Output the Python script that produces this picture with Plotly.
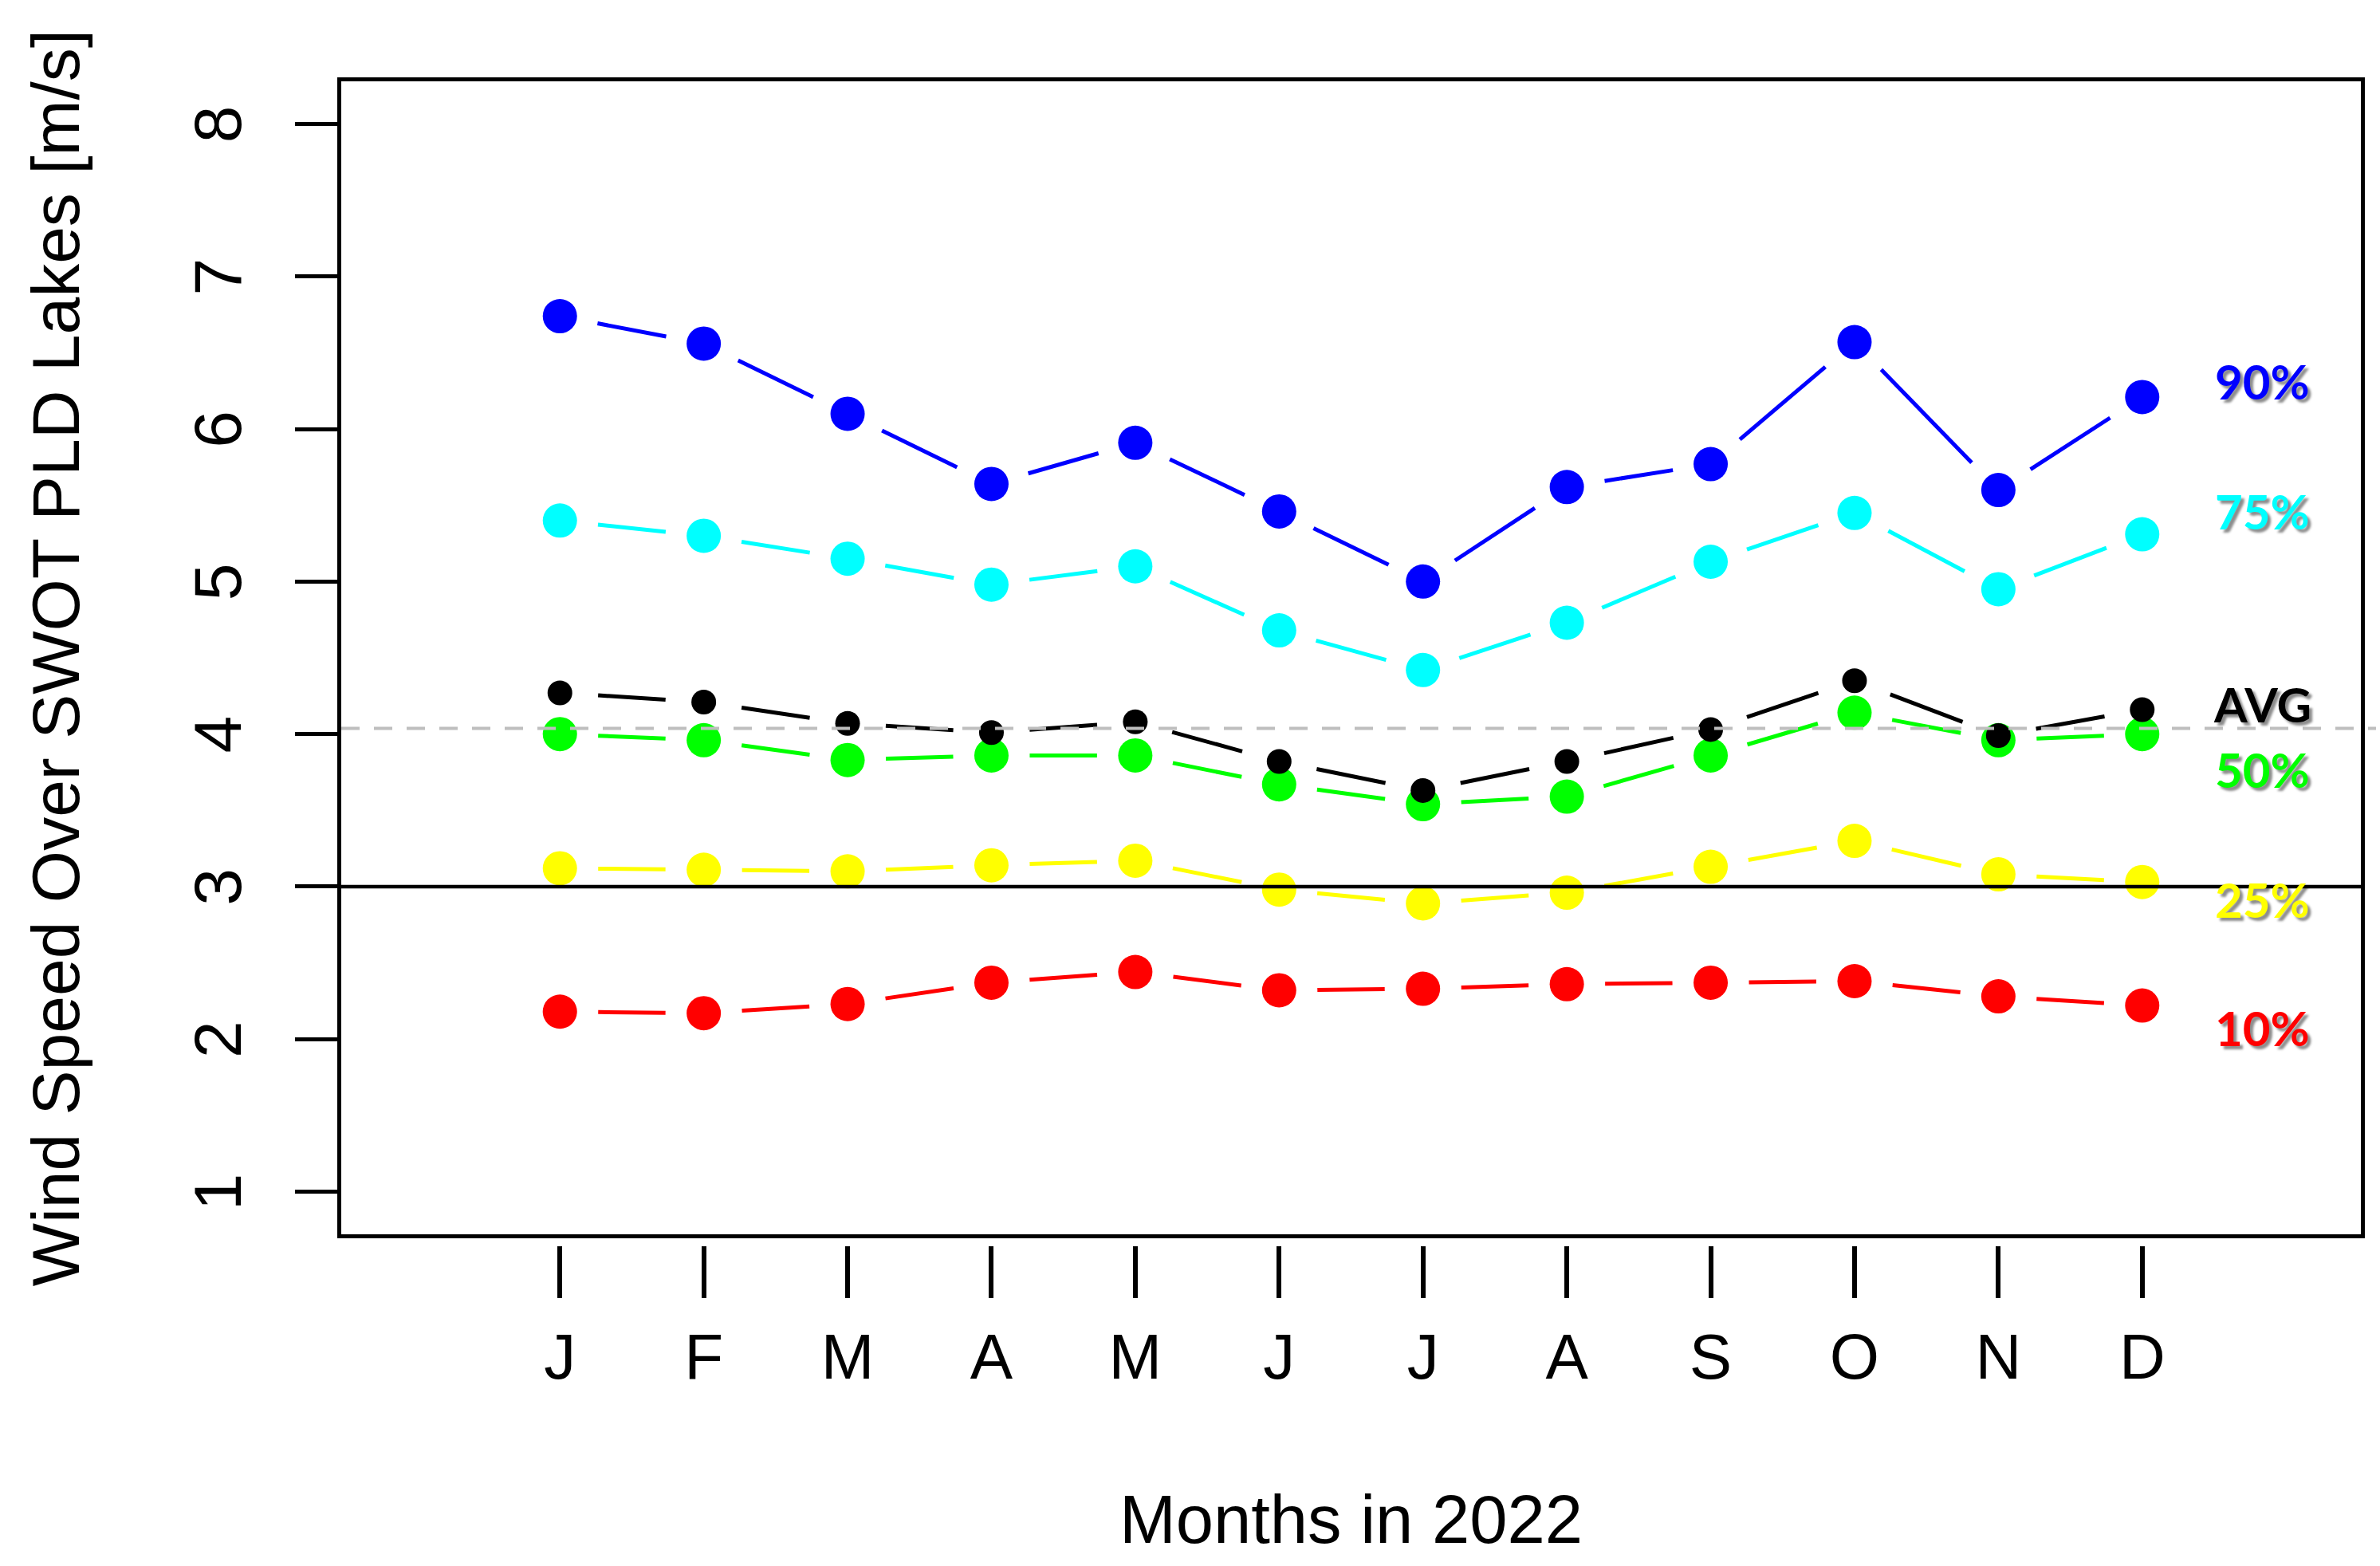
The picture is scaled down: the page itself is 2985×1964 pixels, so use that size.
import math
import plotly.graph_objects as go

# ---------------- data ----------------
months = ["J", "F", "M", "A", "M", "J", "J", "A", "S", "O", "N", "D"]
month_pos = list(range(1, 13))

p90 = [6.74, 6.56, 6.10, 5.64, 5.91, 5.46, 5.00, 5.62, 5.77, 6.57, 5.60, 6.21]
p75 = [5.40, 5.30, 5.15, 4.98, 5.10, 4.68, 4.42, 4.73, 5.13, 5.45, 4.95, 5.31]
avg = [4.27, 4.21, 4.07, 4.01, 4.08, 3.82, 3.63, 3.82, 4.03, 4.35, 3.99, 4.16]
p50 = [4.00, 3.96, 3.83, 3.86, 3.86, 3.67, 3.54, 3.59, 3.86, 4.14, 3.96, 4.00]
p25 = [3.12, 3.11, 3.10, 3.14, 3.17, 2.98, 2.89, 2.96, 3.13, 3.30, 3.08, 3.03]
p10 = [2.18, 2.17, 2.23, 2.37, 2.44, 2.32, 2.33, 2.36, 2.37, 2.38, 2.28, 2.22]

series_names = ["90%", "75%", "50%", "25%", "10%", "AVG"]
series_values = [p90, p75, p50, p25, p10, avg]
series_colors = ["#0000FF", "#00FFFF", "#00FF00", "#FFFF00", "#FF0000", "#000000"]
label_y = [6.315, 5.46, 3.77, 2.915, 2.075, 4.196]

avg_ref_line = 4.037
ref_line = 3.0

y_ticks = [1, 2, 3, 4, 5, 6, 7, 8]

# ---------------- geometry ----------------
W, H = 2985, 1964
ML, MR, MT = 428, 24, 102
PLOT_BOTTOM = 1548
x_range = [-0.52, 13.52]
y_range = [0.72, 8.28]
plot_w = W - ML - MR
plot_h = PLOT_BOTTOM - MT
sx = plot_w / (x_range[1] - x_range[0])
sy = plot_h / (y_range[1] - y_range[0])
GAP = 48  # px gap around each point (R type="b")

def gapped(xs, ys):
    gx, gy = [], []
    for i in range(len(xs) - 1):
        x0, y0, x1, y1 = xs[i], ys[i], xs[i + 1], ys[i + 1]
        L = math.hypot((x1 - x0) * sx, (y1 - y0) * sy)
        if L <= 2 * GAP:
            continue
        t = GAP / L
        gx += [x0 + t * (x1 - x0), x1 - t * (x1 - x0), None]
        gy += [y0 + t * (y1 - y0), y1 - t * (y1 - y0), None]
    return gx, gy

fig = go.Figure()

for name, vals, col in zip(series_names, series_values, series_colors):
    lx, ly = gapped(month_pos, vals)
    fig.add_trace(go.Scatter(x=lx, y=ly, mode="lines",
                             line=dict(color=col, width=5),
                             showlegend=False, hoverinfo="skip"))
    fig.add_trace(go.Scatter(x=month_pos, y=vals, mode="markers", name=name,
                             marker=dict(color=col, size=31 if name == "AVG" else 43,
                                         line=dict(width=0)),
                             showlegend=False))

# invisible trace to carry the detached tick-mark axis
fig.add_trace(go.Scatter(x=month_pos, y=[None] * 12, xaxis="x2", yaxis="y",
                         mode="markers", showlegend=False, hoverinfo="skip"))

fig.add_hline(y=avg_ref_line, x0=0, x1=1.0075,
              line=dict(color="#BEBEBE", width=4, dash="23px,18px"), layer="above")
fig.add_hline(y=ref_line, line=dict(color="black", width=4.5), layer="above")

for name, ly, col in zip(series_names, label_y, series_colors):
    fig.add_annotation(x=12.835, y=ly, text="<b>%s</b>" % name, showarrow=False,
                       xanchor="center", yanchor="middle",
                       font=dict(family="Lato", size=60, color=col, weight=900,
                                 shadow="4px 4px 3px rgba(0,0,0,0.45)"))

dom0 = (H - PLOT_BOTTOM) / (H - MT)
tick_axis_pos = (H - 1562) / (H - MT)

fig.update_layout(
    width=W, height=H,
    margin=dict(l=ML, r=MR, t=MT, b=0, pad=0, autoexpand=False),
    paper_bgcolor="white", plot_bgcolor="white",
    font=dict(family="Liberation Sans", color="black"),
    xaxis=dict(range=x_range, showgrid=False, zeroline=False, automargin=False,
               showline=True, mirror=True, linecolor="black", linewidth=4.5,
               ticks="", tickvals=month_pos, ticktext=months,
               tickfont=dict(size=80, family="Liberation Sans"),
               ticklabelstandoff=80,
               title=dict(text="Months in 2022", font=dict(size=85), standoff=132),
               anchor="y"),
    xaxis2=dict(range=x_range, overlaying="x", anchor="free", position=tick_axis_pos,
                side="bottom", showgrid=False, zeroline=False, showline=False,
                automargin=False,
                ticks="outside", ticklen=65, tickwidth=6, tickcolor="black",
                tickvals=month_pos, showticklabels=False),
    yaxis=dict(range=y_range, domain=[dom0, 1], showgrid=False, zeroline=False,
               automargin=False,
               showline=True, mirror=True, linecolor="black", linewidth=4.5,
               ticks="outside", ticklen=53, tickwidth=4.5, tickcolor="black",
               tickvals=y_ticks, tickangle=-90,
               tickfont=dict(size=84, family="Liberation Sans"),
               ticklabelstandoff=35, ticklabelshift=13,
               title=dict(text="Wind Speed Over SWOT PLD Lakes [m/s]",
                          font=dict(size=84), standoff=100)),
)

fig.write_html("out.html", config={"displayModeBar": False},
               post_script="document.body.style.margin='0';document.body.style.overflow='hidden';")
